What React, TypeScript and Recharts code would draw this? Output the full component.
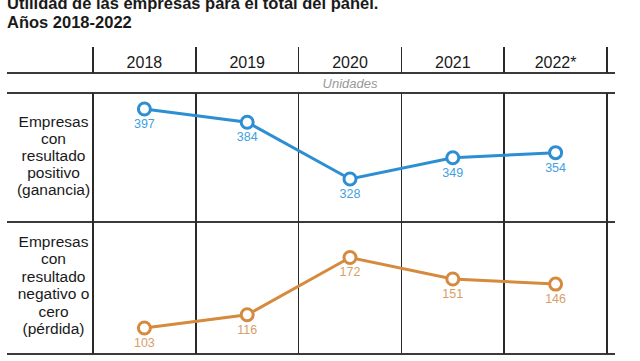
import React from 'react';
import { LineChart, Line, XAxis, YAxis, LabelList } from 'recharts';

const years = ['2018', '2019', '2020', '2021', '2022*'];
const positivo = [397, 384, 328, 349, 354];
const negativo = [103, 116, 172, 151, 146];
const titleLines = ['Utilidad de las empresas para el total del panel.', 'Años 2018-2022'];
const labelPos = ['Empresas', 'con', 'resultado', 'positivo', '(ganancia)'];
const labelNeg = ['Empresas', 'con', 'resultado', 'negativo o', 'cero', '(pérdida)'];
const unitsLabel = 'Unidades';

const data = years.map((y, i) => ({ year: y, pos: positivo[i], neg: negativo[i] }));

const W = 640;
const H = 361;
const PLOT_LEFT = 93;
const PLOT_RIGHT = 607;
const PLOT_TOP = 93;
const PLOT_BOTTOM = 354;
const HEADER_TOP = 47;
const HEADER_BOTTOM = 73;
const PANEL_SPLIT = 222;
const TABLE_LEFT = 7;
const TABLE_RIGHT = 615;

const BLUE = '#2d8fd2';
const BLUE_TXT = '#3f9fe0';
const ORANGE = '#d68a3e';
const ORANGE_TXT = '#d7a068';
const FONT = '"Liberation Sans", Arial, Helvetica, sans-serif';

const colW = (PLOT_RIGHT - PLOT_LEFT) / years.length;

const hLine = (y: number, key: string) => (
  <div key={key} style={{ position: 'absolute', left: TABLE_LEFT, width: TABLE_RIGHT - TABLE_LEFT, top: y - 1, height: 2, background: '#3a3a3a' }} />
);
const vLine = (x: number, y1: number, y2: number, key: string) => (
  <div key={key} style={{ position: 'absolute', left: x - 0.75, width: 1.5, top: y1, height: y2 - y1, background: '#2a2a2a' }} />
);

const Dot = (props: any) => {
  const { cx, cy, stroke } = props;
  if (cx == null || cy == null) return null;
  return <circle cx={cx} cy={cy} r={6} fill="#fff" stroke={stroke} strokeWidth={3} />;
};

export default function App() {
  const bounds = Array.from({ length: years.length + 1 }, (_, i) => PLOT_LEFT + i * colW);
  return (
    <div style={{ position: 'absolute', left: 0, top: 0, width: W, height: H, background: '#fff', overflow: 'hidden', fontFamily: FONT }}>
      {titleLines.map((t, i) => (
        <div key={t} style={{ position: 'absolute', left: 7, top: -6 + i * 19, fontSize: 16.5, fontWeight: 700, color: '#1a1a1a', whiteSpace: 'nowrap', lineHeight: '19px' }}>{t}</div>
      ))}
      {hLine(HEADER_BOTTOM, 'h1')}
      {hLine(PLOT_TOP, 'h2')}
      {hLine(PANEL_SPLIT, 'h3')}
      {hLine(PLOT_BOTTOM, 'h4')}
      {bounds.map((x, i) => vLine(x, HEADER_TOP, HEADER_BOTTOM, 'vh' + i))}
      {bounds.map((x, i) => vLine(x, PLOT_TOP, PLOT_BOTTOM, 'vb' + i))}
      <div style={{ position: 'absolute', left: PLOT_LEFT + 2 * colW, width: colW, top: HEADER_BOTTOM + 1, height: 20, lineHeight: '20px', textAlign: 'center', fontStyle: 'italic', fontSize: 13, color: '#999' }}>{unitsLabel}</div>
      <div style={{ position: 'absolute', left: 0, width: PLOT_LEFT + 14, top: 113, textAlign: 'center', fontSize: 15.5, lineHeight: '17px', color: '#1a1a1a' }}>
        {labelPos.map((l) => <div key={l}>{l}</div>)}
      </div>
      <div style={{ position: 'absolute', left: 0, width: PLOT_LEFT + 14, top: 233, textAlign: 'center', fontSize: 15.5, lineHeight: '17.4px', color: '#1a1a1a' }}>
        {labelNeg.map((l) => <div key={l}>{l}</div>)}
      </div>
      <div style={{ position: 'absolute', left: 0, top: 0 }}>
        <LineChart width={W} height={H} data={data} margin={{ top: 43, right: W - PLOT_RIGHT, bottom: H - PLOT_BOTTOM, left: PLOT_LEFT }}>
          <XAxis dataKey="year" orientation="top" scale="band" height={50} axisLine={false} tickLine={false} tickSize={0} tickMargin={25} interval={0}
            tick={{ fill: '#1a1a1a', fontSize: 16, fontFamily: FONT }} />
          <YAxis yAxisId="pos" hide type="number" domain={[155.5, 412.8]} allowDataOverflow />
          <YAxis yAxisId="neg" hide type="number" domain={[77.6, 333]} allowDataOverflow />
          <Line yAxisId="pos" dataKey="pos" stroke={BLUE} strokeWidth={3} dot={<Dot />} isAnimationActive={false}>
            <LabelList dataKey="pos" position="bottom" offset={10} fill={BLUE_TXT} fontSize={12.5} fontFamily={FONT} />
          </Line>
          <Line yAxisId="neg" dataKey="neg" stroke={ORANGE} strokeWidth={3} dot={<Dot />} isAnimationActive={false}>
            <LabelList dataKey="neg" position="bottom" offset={10} fill={ORANGE_TXT} fontSize={12.5} fontFamily={FONT} />
          </Line>
        </LineChart>
      </div>
    </div>
  );
}
